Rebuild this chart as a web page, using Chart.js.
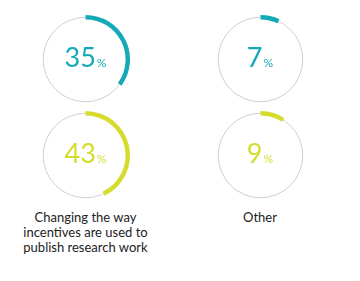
<!DOCTYPE html>
<html>
<head>
<meta charset="utf-8">
<script src="https://cdn.jsdelivr.net/npm/chart.js@4"></script>
<style>
    body { margin: 0; background: #fff; width: 360px; height: 281px; position: relative; overflow: hidden; font-family: Lato, "Open Sans", sans-serif; }
    .ring { position: absolute; width: 89px; height: 89px; }
    .value { position: absolute; width: 100px; text-align: center; font-weight: 400; font-size: 27px; line-height: 26px; }
    .value small { font-size: 12px; margin-left: 1px; }
    .label { position: absolute; width: 170px; text-align: center; font-size: 13px; line-height: 15px; color: #222; }
</style>
</head>
<body>
<canvas id="ring0" class="ring"></canvas>
<canvas id="ring1" class="ring"></canvas>
<canvas id="ring2" class="ring"></canvas>
<canvas id="ring3" class="ring"></canvas>
<script>
// data
const categories = ['Changing the way incentives are used to publish research work', 'Other'];
const seriesTop = [35, 7];
const seriesBottom = [43, 9];
const colorTop = '#14a9b7';
const colorBottom = '#d5dc2c';

// ring centres: [column][row]
const colX = [85.5, 260];
const rowY = [59.2, 155];

// thin grey track circle under each arc
const trackPlugin = {
    id: 'track',
    beforeDatasetsDraw(chart) {
        const arc = chart.getDatasetMeta(0).data[0];
        if (!arc) return;
        const ctx = chart.ctx;
        const r = (arc.innerRadius + arc.outerRadius) / 2;
        ctx.save();
        ctx.beginPath();
        ctx.arc(arc.x, arc.y, r, 0, Math.PI * 2);
        ctx.strokeStyle = '#cfcfcf';
        ctx.lineWidth = 1;
        ctx.stroke();
        ctx.restore();
    }
};

function makeRing(id, value, color, cx, cy) {
    const canvas = document.getElementById(id);
    canvas.width = 89;
    canvas.height = 89;
    canvas.style.left = (cx - 44.5) + 'px';
    canvas.style.top = (cy - 44.5) + 'px';
    new Chart(canvas, {
        type: 'doughnut',
        data: {
            labels: ['value', 'rest'],
            datasets: [{
                data: [value, 100 - value],
                backgroundColor: [color, 'rgba(0,0,0,0)'],
                borderWidth: 0
            }]
        },
        options: {
            responsive: false,
            animation: false,
            cutout: '90%',
            plugins: { legend: { display: false }, tooltip: { enabled: false } }
        },
        plugins: [trackPlugin]
    });

    const v = document.createElement('div');
    v.className = 'value';
    v.style.color = color;
    v.style.left = (cx - 50) + 'px';
    v.style.top = (cy - 15) + 'px';
    v.innerHTML = value + '<small>%</small>';
    document.body.appendChild(v);
}

makeRing('ring0', seriesTop[0], colorTop, colX[0], rowY[0]);
makeRing('ring1', seriesTop[1], colorTop, colX[1], rowY[0]);
makeRing('ring2', seriesBottom[0], colorBottom, colX[0], rowY[1]);
makeRing('ring3', seriesBottom[1], colorBottom, colX[1], rowY[1]);

// category labels under each column
const labelLines = [['Changing the way', 'incentives are used to', 'publish research work'], ['Other']];
categories.forEach((c, i) => {
    const d = document.createElement('div');
    d.className = 'label';
    d.style.left = (colX[i] - 85) + 'px';
    d.style.top = '210px';
    d.innerHTML = labelLines[i].join('<br>');
    document.body.appendChild(d);
});
</script>
</body>
</html>
